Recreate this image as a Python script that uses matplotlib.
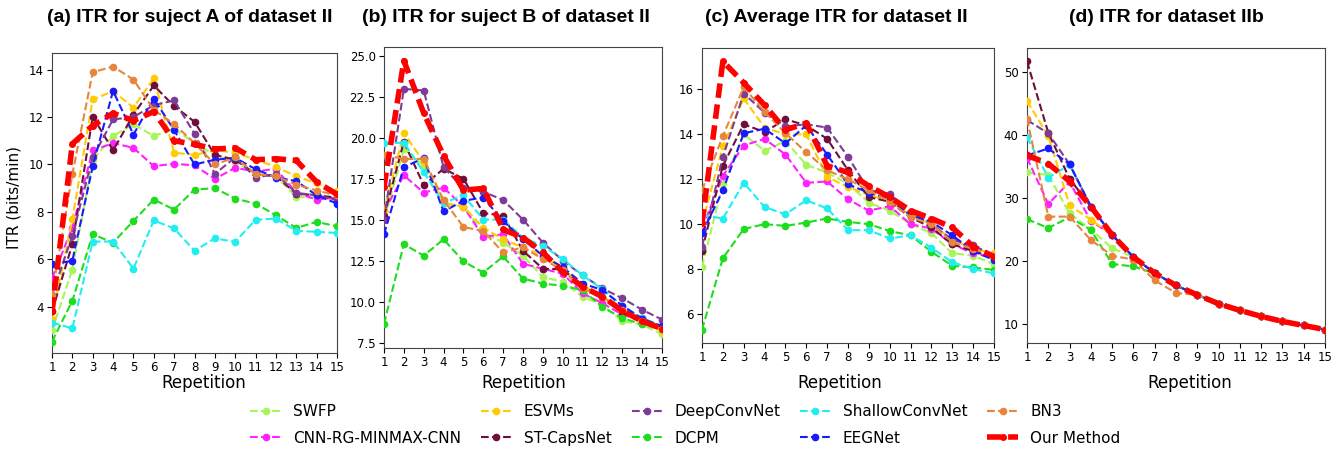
import matplotlib
matplotlib.use("Agg")
import matplotlib.pyplot as plt
from matplotlib.lines import Line2D

reps = list(range(1, 16))
x_ticks = list(range(1, 16))

methods = ["SWFP", "CNN-RG-MINMAX-CNN", "ESVMs", "ST-CapsNet", "DeepConvNet",
           "DCPM", "ShallowConvNet", "EEGNet", "BN3", "Our Method"]
colors = ["#a8f55a", "#ff22ff", "#ffcc00", "#6e0f3c", "#7d3c98",
          "#1fdc1f", "#22eef0", "#1a1aff", "#e8853d", "#ff0000"]

titles = ["(a) ITR for suject A of dataset II",
          "(b) ITR for suject B of dataset II",
          "(c) Average ITR for dataset II",
          "(d) ITR for dataset IIb"]

# Panel (a)
swfp_a = [3.0, 5.57, 10.2, 11.2, 11.7, 11.2, 11.5, 10.9, 10.4, 10.1, 9.6, 9.5, 8.63, 8.6, 8.5]
cnn_a = [5.2, 7.34, 10.59, 10.9, 10.7, 9.93, 10.03, 9.96, 9.39, 9.86, 9.7, 9.82, 8.8, 8.52, 8.6]
esvm_a = [3.5, 7.7, 12.74, 13.09, 12.4, 13.63, 10.5, 10.4, 10.6, 10.5, 10.2, 9.9, 9.5, 9.2, 8.9]
stcaps_a = [3.8, 6.64, 12.02, 10.59, 12.1, 13.33, 12.46, 11.8, 10.4, 10.2, 9.6, 9.5, 8.77, 8.7, 8.6]
deep_a = [4.5, 7.0, 10.3, 11.9, 12.0, 12.5, 12.7, 11.3, 9.6, 10.3, 9.45, 9.6, 8.8, 8.7, 8.5]
dcpm_a = [2.53, 4.25, 7.06, 6.7, 7.62, 8.52, 8.1, 8.94, 9.0, 8.56, 8.35, 7.86, 7.32, 7.58, 7.39]
shallow_a = [3.33, 3.09, 6.75, 6.75, 5.61, 7.64, 7.3, 6.36, 6.88, 6.74, 7.67, 7.72, 7.2, 7.16, 7.11]
eeg_a = [5.8, 5.94, 9.92, 13.1, 11.26, 12.77, 11.45, 10.0, 10.2, 10.28, 9.8, 9.45, 9.3, 8.7, 8.35]
bn3_a = [4.5, 9.6, 13.89, 14.13, 13.58, 12.3, 11.7, 10.9, 10.0, 10.3, 9.6, 9.5, 9.15, 8.9, 8.7]
ours_a = [3.8, 10.87, 11.64, 12.16, 11.85, 12.23, 11.0, 10.85, 10.65, 10.7, 10.2, 10.24, 10.17, 9.26, 8.74]

# Panel (b)
swfp_b = [15.0, 19.3, 18.3, 16.0, 15.8, 14.2, 13.6, 12.8, 11.5, 11.2, 10.3, 9.8, 8.8, 8.6, 8.0]
cnn_b = [15.5, 17.7, 16.65, 16.95, 15.8, 13.95, 14.1, 12.3, 12.0, 11.7, 10.5, 9.9, 9.2, 8.8, 8.3]
esvm_b = [15.5, 20.3, 18.5, 16.0, 15.8, 14.5, 13.8, 13.3, 12.8, 12.0, 11.0, 10.3, 9.3, 8.8, 8.2]
stcaps_b = [15.2, 19.75, 17.1, 18.1, 17.5, 15.4, 15.25, 13.1, 12.0, 11.97, 10.9, 10.3, 9.3, 9.0, 8.4]
deep_b = [15.0, 22.98, 22.88, 18.2, 16.9, 16.7, 16.2, 15.0, 13.6, 12.5, 11.6, 10.8, 10.2, 9.5, 8.9]
dcpm_b = [8.64, 13.5, 12.8, 13.8, 12.45, 11.77, 12.75, 11.4, 11.1, 10.96, 10.7, 9.65, 9.0, 8.6, 8.3]
shallow_b = [19.65, 19.7, 17.9, 16.0, 16.5, 15.0, 15.0, 13.9, 13.4, 12.6, 11.6, 10.75, 9.75, 9.0, 8.5]
eeg_b = [14.1, 18.2, 18.75, 15.5, 16.15, 16.35, 14.9, 13.8, 12.8, 12.1, 11.1, 10.7, 9.75, 8.95, 8.5]
bn3_b = [18.95, 18.7, 18.7, 16.2, 14.55, 14.3, 13.0, 13.3, 12.6, 11.9, 10.8, 10.3, 9.5, 8.8, 8.3]
ours_b = [17.0, 24.7, 21.5, 18.9, 16.8, 16.9, 14.4, 13.9, 13.0, 11.8, 10.9, 10.3, 9.45, 8.8, 8.35]

# Panel (c)
swfp_c = [8.1, 11.8, 14.0, 13.27, 13.7, 12.64, 12.3, 11.8, 10.95, 10.6, 10.0, 9.6, 8.7, 8.6, 8.2]
cnn_c = [9.8, 12.15, 13.5, 13.8, 13.1, 11.84, 11.9, 11.1, 10.6, 10.8, 10.0, 9.8, 9.1, 8.7, 8.5]
esvm_c = [10.0, 13.46, 15.6, 14.3, 14.0, 14.0, 12.1, 11.65, 11.3, 11.0, 10.4, 10.0, 9.3, 8.9, 8.7]
stcaps_c = [8.8, 12.6, 14.45, 14.1, 14.67, 14.4, 13.8, 12.4, 11.2, 11.0, 10.3, 9.85, 9.1, 8.8, 8.5]
deep_c = [9.0, 13.0, 15.82, 14.97, 14.35, 14.45, 14.3, 13.0, 11.5, 11.35, 10.5, 10.0, 9.3, 9.05, 8.6]
dcpm_c = [5.3, 8.48, 9.78, 10.0, 9.92, 10.07, 10.25, 10.1, 10.0, 9.69, 9.5, 8.77, 8.14, 8.07, 7.96]
shallow_c = [10.4, 10.25, 11.84, 10.76, 10.44, 11.06, 10.7, 9.73, 9.73, 9.36, 9.5, 8.95, 8.3, 8.0, 7.8]
eeg_c = [9.6, 11.5, 14.05, 14.25, 13.6, 14.4, 13.1, 11.77, 11.4, 11.1, 10.4, 10.1, 9.5, 8.8, 8.4]
bn3_c = [11.5, 13.93, 16.1, 15.0, 14.05, 13.2, 12.4, 12.0, 11.5, 11.0, 10.3, 10.0, 9.2, 8.9, 8.6]
ours_c = [10.03, 17.25, 16.3, 15.3, 14.2, 14.5, 12.6, 12.3, 11.7, 11.2, 10.6, 10.25, 9.85, 9.0, 8.55]

# Panel (d)
swfp_d = [34.0, 33.6, 27.5, 25.0, 22.0, 20.6, 18.05, 16.1, 14.6, 13.2, 12.15, 11.2, 10.4, 9.75, 9.1]
cnn_d = [36.3, 29.0, 32.5, 26.3, 24.1, 20.6, 18.05, 16.1, 14.6, 13.2, 12.15, 11.2, 10.4, 9.75, 9.1]
esvm_d = [45.3, 39.8, 28.8, 26.5, 24.1, 20.6, 18.05, 16.1, 14.6, 13.2, 12.15, 11.2, 10.4, 9.75, 9.1]
stcaps_d = [51.6, 40.3, 33.0, 28.6, 24.1, 20.6, 18.05, 16.1, 14.6, 13.2, 12.15, 11.2, 10.4, 9.75, 9.1]
deep_d = [42.3, 40.2, 35.3, 28.6, 24.1, 20.6, 18.05, 16.1, 14.6, 13.2, 12.15, 11.2, 10.4, 9.75, 9.1]
dcpm_d = [26.6, 25.2, 26.9, 24.9, 19.5, 19.1, 18.0, 16.1, 14.6, 13.2, 12.15, 11.2, 10.4, 9.75, 9.1]
shallow_d = [39.6, 33.2, 35.2, 28.6, 24.1, 20.6, 18.05, 16.1, 14.6, 13.2, 12.15, 11.2, 10.4, 9.75, 9.1]
eeg_d = [36.7, 37.8, 35.3, 28.6, 24.1, 20.6, 18.05, 16.1, 14.6, 13.2, 12.15, 11.2, 10.4, 9.75, 9.1]
bn3_d = [42.5, 27.0, 27.0, 23.3, 20.8, 20.2, 16.9, 14.9, 14.6, 13.2, 12.15, 11.2, 10.4, 9.75, 9.1]
ours_d = [36.7, 35.4, 32.6, 28.6, 24.1, 20.6, 18.05, 16.1, 14.6, 13.2, 12.15, 11.2, 10.4, 9.75, 9.1]

panels = [
    [swfp_a, cnn_a, esvm_a, stcaps_a, deep_a, dcpm_a, shallow_a, eeg_a, bn3_a, ours_a],
    [swfp_b, cnn_b, esvm_b, stcaps_b, deep_b, dcpm_b, shallow_b, eeg_b, bn3_b, ours_b],
    [swfp_c, cnn_c, esvm_c, stcaps_c, deep_c, dcpm_c, shallow_c, eeg_c, bn3_c, ours_c],
    [swfp_d, cnn_d, esvm_d, stcaps_d, deep_d, dcpm_d, shallow_d, eeg_d, bn3_d, ours_d],
]
ylims = [(2.05, 14.7), None, None, None]

W, H = 1344, 451
fig = plt.figure(figsize=(W / 100, H / 100), dpi=100)

# axes boxes in pixels: left, top, right, bottom
boxes = [(52, 53, 337, 353), (384, 47, 662, 348), (702, 48, 994, 343), (1027, 48, 1325, 343)]
title_x = [190, 506, 836, 1166]
xlabel_x = [204, 524, 840, 1190]

title_font = ["Liberation Sans", "DejaVu Sans"]

for i, (box, series) in enumerate(zip(boxes, panels)):
    l, t, r, b = box
    ax = fig.add_axes([l / W, 1 - b / H, (r - l) / W, (b - t) / H])
    for name, col, vals in zip(methods, colors, series):
        if name == "Our Method":
            ax.plot(reps, vals, color=col, lw=4, dashes=(2.6, 1.2), marker="o",
                    markersize=4, zorder=5)
        else:
            ax.plot(reps, vals, color=col, lw=1.5, ls="--", marker="o",
                    markersize=4.5, zorder=3)
    ax.set_xlim(1, 15)
    if ylims[i] is not None:
        ax.set_ylim(*ylims[i])
    ax.set_xticks(x_ticks)
    ax.tick_params(labelsize=8.5, length=3.5, pad=2.5)
    for s in ax.spines.values():
        s.set_color("#444444")
    fig.text(title_x[i] / W, 1 - 18 / H, titles[i], ha="center", va="center",
             fontsize=14, fontweight="bold", family=title_font)
    fig.text(xlabel_x[i] / W, 1 - 383 / H, "Repetition", ha="center", va="center",
             fontsize=12)

fig.text(14 / W, 1 - 198 / H, "ITR (bits/min)", rotation=90, ha="center",
         va="center", fontsize=11)

handles = []
for name, col in zip(methods, colors):
    if name == "Our Method":
        handles.append(Line2D([], [], color=col, lw=4, dashes=(2.6, 1.2),
                              marker="o", markersize=4))
    else:
        handles.append(Line2D([], [], color=col, lw=1.5, ls="--", marker="o",
                              markersize=4.5))
fig.legend(handles, methods, ncol=5, loc="center", bbox_to_anchor=(0.51, 1 - 425 / H),
           frameon=False, fontsize=11, columnspacing=1.3, handlelength=2.0,
           labelspacing=0.75, handletextpad=0.8)

fig.savefig("out.png", dpi=100)
